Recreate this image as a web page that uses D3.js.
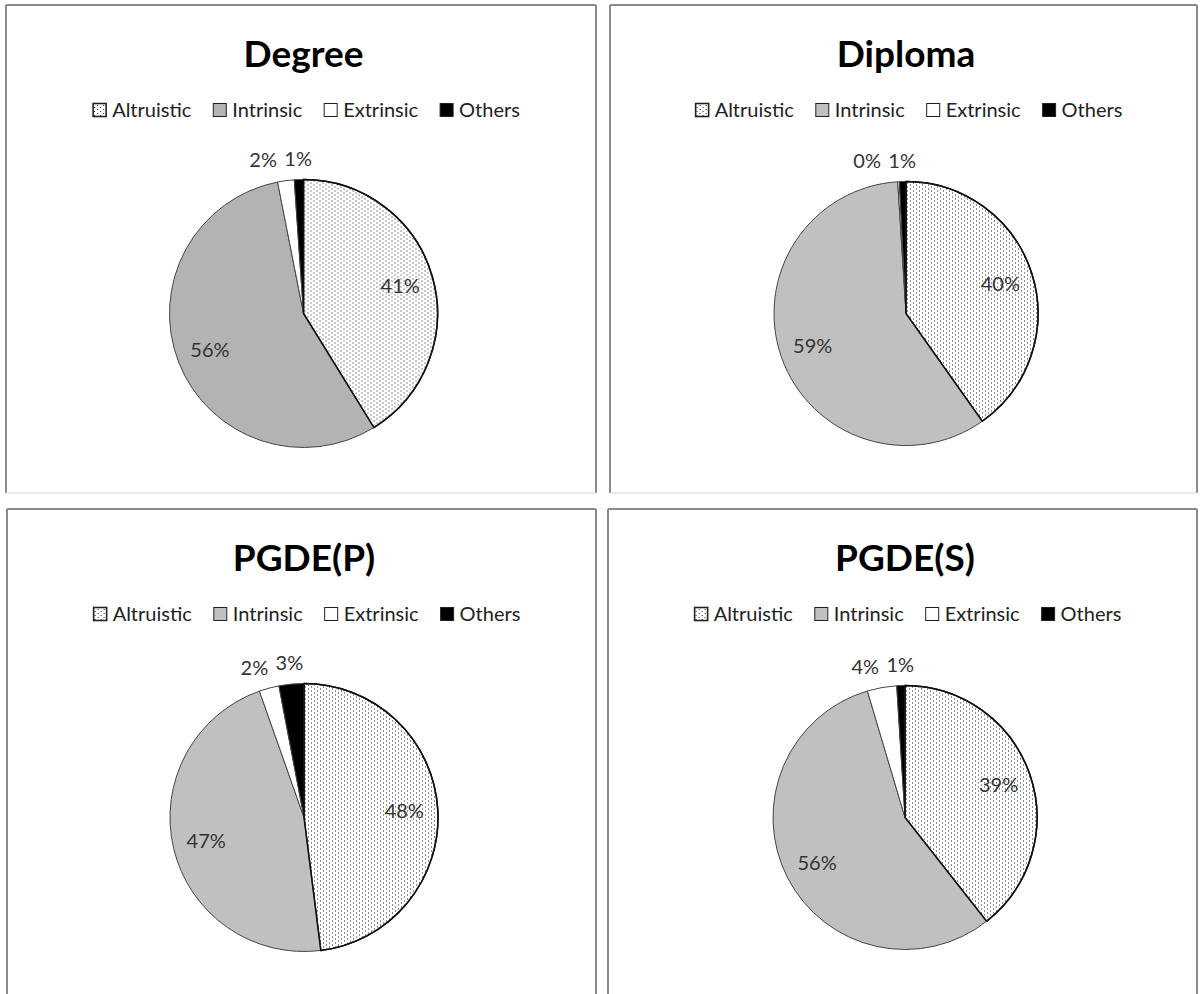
<!DOCTYPE html>
<html>
<head>
<meta charset="utf-8">
<script src="https://cdn.jsdelivr.net/npm/d3@7"></script>
<style>
  html, body { margin: 0; padding: 0; background: #fff; }
  svg { display: block; }
</style>
</head>
<body>
<svg id="chart" width="1200" height="994"></svg>
<script>
// ---- data ----
const categories = ["Altruistic", "Intrinsic", "Extrinsic", "Others"];
const groups = ["Degree", "Diploma", "PGDE(P)", "PGDE(S)"];
const degreeValues  = [41.2, 55.7, 2.0, 1.1];
const diplomaValues = [40.2, 58.8, 0.2, 0.8];
const pgdePValues   = [48.0, 46.6, 2.4, 3.0];
const pgdeSValues   = [39.4, 56.0, 3.6, 1.0];
const seriesValues = [degreeValues, diplomaValues, pgdePValues, pgdeSValues];

// ---- layout / style ----
const panels = [
  {x: 6,   y: 5,   w: 590, h: 488},
  {x: 610, y: 5,   w: 587, h: 488},
  {x: 7,   y: 509, w: 589, h: 495},
  {x: 608, y: 509, w: 589, h: 495}
];
const intrinsicFills = ["#b3b3b3", "#c0c0c0", "#c0c0c0", "#c0c0c0"];
const radii = [134, 132, 134, 132];

const svg = d3.select("#chart");
const defs = svg.append("defs");
const pat = defs.append("pattern").attr("id", "dots")
  .attr("patternUnits", "userSpaceOnUse").attr("width", 6).attr("height", 4);
pat.append("rect").attr("width", 6).attr("height", 4).attr("fill", "#fff");
pat.append("rect").attr("x", 1).attr("y", 1).attr("width", 1).attr("height", 1).attr("fill", "#222");
pat.append("rect").attr("x", 4).attr("y", 3).attr("width", 1).attr("height", 1).attr("fill", "#222");

const FONT = "Lato, 'Open Sans', sans-serif";

groups.forEach((g, gi) => {
  const p = panels[gi];
  const values = seriesValues[gi];
  const cx = p.x + p.w / 2 + 2.5;
  const grp = svg.append("g");

  // frame
  grp.append("line").attr("x1", p.x).attr("y1", p.y).attr("x2", p.x).attr("y2", p.y + p.h)
    .attr("stroke", "#8a8a8a").attr("stroke-width", 2);
  grp.append("line").attr("x1", p.x).attr("y1", p.y).attr("x2", p.x + p.w).attr("y2", p.y)
    .attr("stroke", "#8a8a8a").attr("stroke-width", 2);
  grp.append("line").attr("x1", p.x + p.w).attr("y1", p.y).attr("x2", p.x + p.w).attr("y2", p.y + p.h)
    .attr("stroke", "#8a8a8a").attr("stroke-width", 2);
  grp.append("line").attr("x1", p.x).attr("y1", p.y + p.h).attr("x2", p.x + p.w).attr("y2", p.y + p.h)
    .attr("stroke", "#e2e2e2").attr("stroke-width", 1.5);

  // title
  grp.append("text").attr("x", cx).attr("y", p.y + 62)
    .attr("text-anchor", "middle").attr("font-family", FONT)
    .attr("font-weight", "bold").attr("font-size", 37).attr("fill", "#000").text(g);

  // colour / fill scale
  const fill = d3.scaleOrdinal().domain(categories)
    .range(["url(#dots)", intrinsicFills[gi], "#ffffff", "#000000"]);

  // legend
  const leg = grp.append("g");
  const ly = p.y + 105;
  let xpos = 0;
  categories.forEach(c => {
    const it = leg.append("g");
    it.append("rect").attr("x", 0).attr("y", -6.5).attr("width", 13).attr("height", 13)
      .attr("fill", fill(c)).attr("stroke", "#222").attr("stroke-width", c === "Altruistic" ? 1.6 : 1);
    const t = it.append("text").attr("x", 19).attr("y", 0).attr("dy", "0.35em")
      .attr("font-family", FONT).attr("font-size", 20).attr("fill", "#222").text(c);
    const w = 19 + t.node().getComputedTextLength();
    it.attr("transform", `translate(${xpos},0)`);
    xpos += w + 22;
  });
  const legW = xpos - 22;
  leg.attr("transform", `translate(${cx + 3 - legW / 2},${ly})`);

  // pie
  const r = radii[gi];
  const cy = p.y + 308.5;
  const pie = d3.pie().sort(null).value(d => d.v);
  const arcs = pie(values.map((v, i) => ({c: categories[i], v})));
  const arc = d3.arc().innerRadius(0).outerRadius(r);
  const pg = grp.append("g").attr("transform", `translate(${cx},${cy})`);
  pg.selectAll("path").data(arcs).join("path")
    .attr("d", arc)
    .attr("fill", d => fill(d.data.c))
    .attr("stroke", d => d.data.c === "Altruistic" ? "#111" : "#444")
    .attr("stroke-width", d => d.data.c === "Altruistic" ? 1.5 : 1)
    .attr("stroke-linejoin", "round");
  pg.append("path").attr("d", arc(arcs[0])).attr("fill", "none")
    .attr("stroke", "#111").attr("stroke-width", 1.5);

  // labels
  const labels = arcs.map(d => {
    const mid = (d.startAngle + d.endAngle) / 2;
    const inside = d.data.v >= 5;
    const rr = inside ? r * 0.75 : r + 21;
    return {text: Math.round(d.data.v) + "%", x: rr * Math.sin(mid), y: -rr * Math.cos(mid), inside};
  });
  const outs = labels.filter(l => !l.inside).sort((a, b) => b.x - a.x);
  for (let i = 1; i < outs.length; i++) {
    const minGap = 35;
    if (outs[i - 1].x - outs[i].x < minGap) outs[i].x = outs[i - 1].x - minGap;
  }
  pg.selectAll("text.lbl").data(labels).join("text").attr("class", "lbl")
    .attr("x", d => d.x).attr("y", d => d.y).attr("dy", "0.35em")
    .attr("text-anchor", "middle").attr("font-family", FONT).attr("font-size", 20)
    .attr("fill", "#333").text(d => d.text);
});
</script>
</body>
</html>
